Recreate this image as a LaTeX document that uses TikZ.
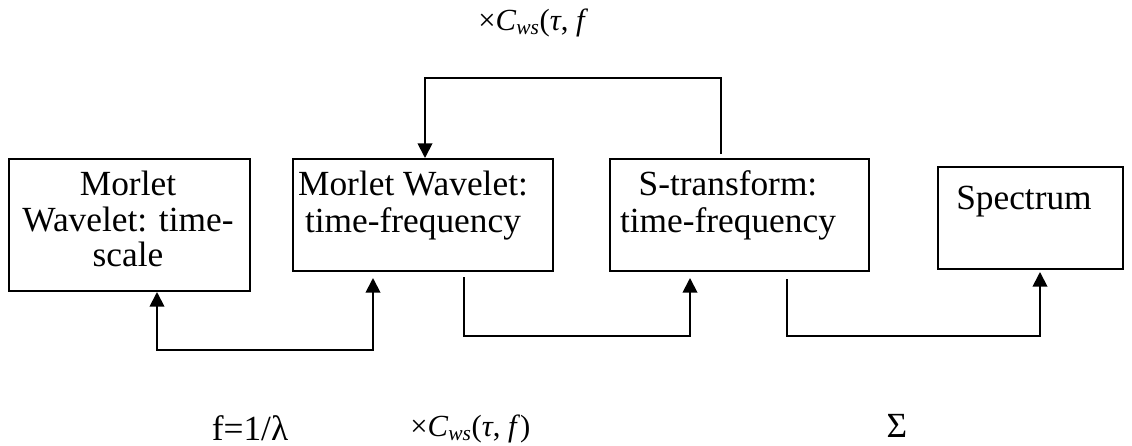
\documentclass[tikz,border=0pt]{standalone}
\usepackage{fontspec}
\setmainfont{Liberation Serif}
\usetikzlibrary{arrows.meta,calc}
\begin{document}
\begin{tikzpicture}[x=0.75pt,y=-0.75pt,
  box/.style={draw,line width=1.5pt,inner sep=0pt,anchor=north west},
  txt/.style={font=\fontsize{26.5}{26}\selectfont,align=center,inner sep=0pt},
  mth/.style={font=\fontsize{23}{26}\selectfont,inner sep=0pt},
  conn/.style={line width=1.4pt},
  arr/.style={-{Triangle[length=11pt,width=11pt]}},
  darr/.style={{Triangle[length=11pt,width=11pt]}-{Triangle[length=11pt,width=11pt]}}]
\useasboundingbox (0,0) rectangle (1132,446);
% boxes
\node[box,minimum width=180.75pt,minimum height=99pt] (b1) at (8,158) {};
\node[box,minimum width=195pt,minimum height=84pt] (b2) at (292,158) {};
\node[box,minimum width=194.25pt,minimum height=84pt] (b3) at (609,158) {};
\node[box,minimum width=138.75pt,minimum height=76.5pt] (b4) at (937,166) {};
% box texts
\node[txt,anchor=north] (t1) at (128,170.7) {\strut Morlet\\Wavelet: time-\\scale};
\node[txt,anchor=north] (t2) at (413,170.7) {\strut Morlet Wavelet:\\time-frequency};
\node[txt,anchor=north] (t3) at (728,170.7) {\strut S-transform:\\time-frequency};
\node[txt,anchor=north] (t4) at (1024,184.7) {\strut Spectrum};
% connectors
\draw[conn,arr] ($(b3.north west)+(112,-4)$) |- ($(b2.north west)+(133,-80)$) -- ($(b2.north west)+(133,0)$);
\draw[conn,darr] ($(b1.south west)+(149,0)$) -- ++(0,58) -| ($(b2.south west)+(81,6)$);
\draw[conn,arr] ($(b2.south west)+(172,5)$) -- ++(0,59) -| ($(b3.south west)+(81,6)$);
\draw[conn,arr] ($(b3.south west)+(178,7)$) -- ++(0,57) -| ($(b4.south west)+(103,2)$);
% labels
\node[mth,anchor=base west] (l1) at (478,30) {×\textit{C}\textsubscript{\textit{ws}}(\textit{τ}, \textit{f}};
\node[txt] (l2) at (250,428) {f=1/λ};
\node[mth,anchor=base west] (l3) at (410,436) {×\textit{C}\textsubscript{\textit{ws}}(\textit{τ}, \textit{f})};
\node[txt] (l4) at (897,426) {Σ};
\end{tikzpicture}
\end{document}
